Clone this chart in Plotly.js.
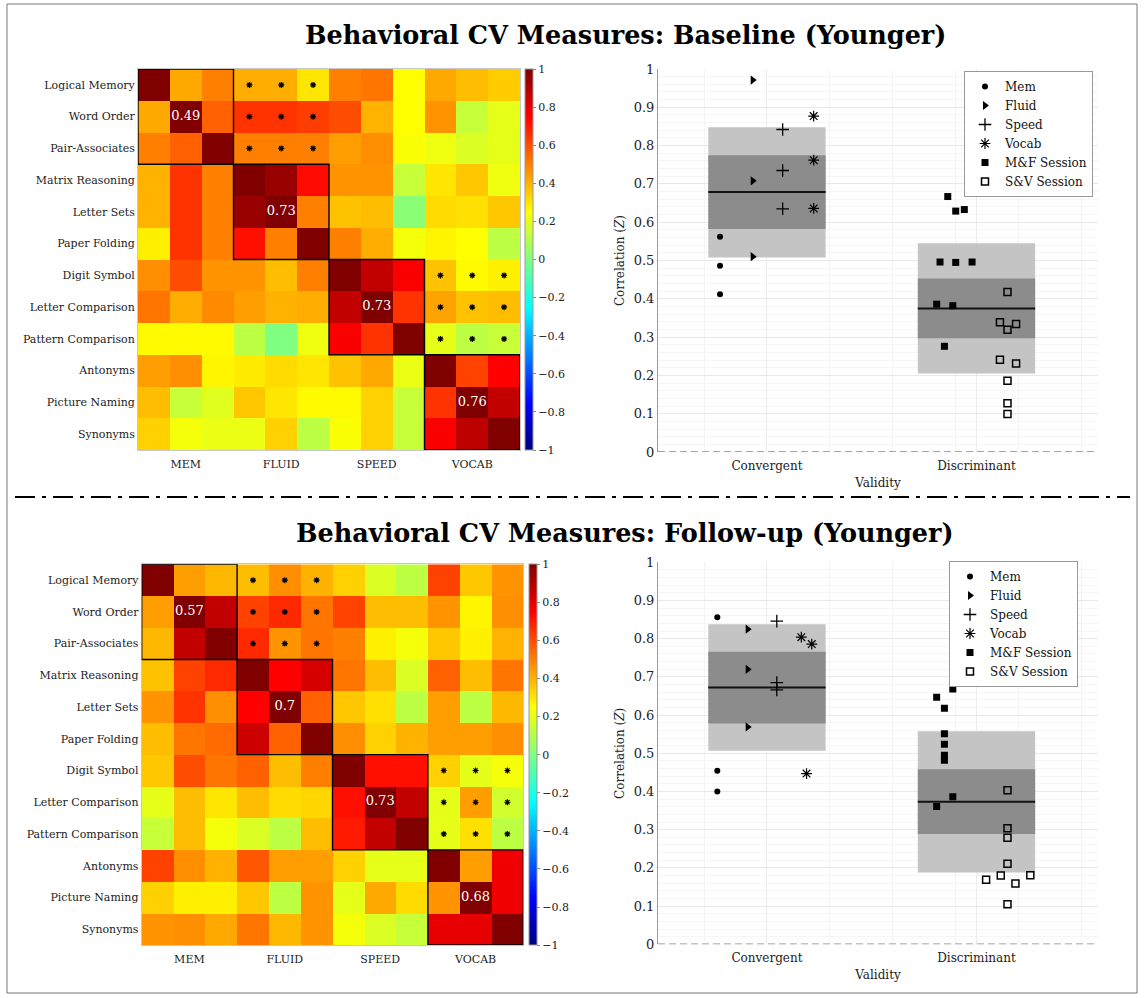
<!DOCTYPE html>
<html>
<head>
<meta charset="utf-8">
<script src="https://cdn.plot.ly/plotly-3.0.1.min.js"></script>
<style>html,body{margin:0;padding:0;background:#fff;}#chart{width:1144px;height:998px;}</style>
</head>
<body>
<div id="chart"></div>
<script>
// ---------------- DATA ----------------
const rowLabels = ['Logical Memory','Word Order','Pair-Associates','Matrix Reasoning','Letter Sets','Paper Folding','Digit Symbol','Letter Comparison','Pattern Comparison','Antonyms','Picture Naming','Synonyms'];
const groupLabels = ['MEM','FLUID','SPEED','VOCAB'];
const groupSize = 3;

const baselineZ = [
  [1.00,0.42,0.50,0.41,0.41,0.30,0.50,0.52,0.25,0.42,0.38,0.35],
  [0.42,1.00,0.56,0.65,0.65,0.63,0.60,0.40,0.25,0.46,0.14,0.20],
  [0.50,0.56,1.00,0.50,0.50,0.50,0.44,0.47,0.24,0.22,0.18,0.20],
  [0.40,0.65,0.50,1.00,0.95,0.73,0.46,0.46,0.14,0.30,0.36,0.22],
  [0.40,0.65,0.50,0.95,1.00,0.50,0.37,0.38,0.02,0.32,0.31,0.36],
  [0.28,0.65,0.50,0.72,0.50,1.00,0.50,0.41,0.23,0.27,0.25,0.12],
  [0.47,0.60,0.46,0.46,0.38,0.50,1.00,0.87,0.76,0.37,0.26,0.28],
  [0.52,0.41,0.48,0.44,0.40,0.41,0.87,1.00,0.65,0.43,0.37,0.38],
  [0.26,0.26,0.26,0.12,0.00,0.22,0.76,0.65,1.00,0.20,0.12,0.14],
  [0.44,0.47,0.27,0.29,0.32,0.30,0.37,0.42,0.21,1.00,0.62,0.75],
  [0.38,0.14,0.19,0.36,0.30,0.26,0.26,0.34,0.14,0.65,1.00,0.87],
  [0.34,0.23,0.21,0.21,0.34,0.12,0.24,0.34,0.14,0.76,0.88,1.00]
];
const followupZ = [
  [1.00,0.44,0.39,0.38,0.47,0.40,0.34,0.18,0.12,0.62,0.36,0.46],
  [0.44,1.00,0.87,0.62,0.67,0.52,0.62,0.38,0.38,0.46,0.27,0.47],
  [0.39,0.87,1.00,0.67,0.46,0.52,0.50,0.28,0.23,0.36,0.28,0.40],
  [0.37,0.62,0.67,1.00,0.75,0.83,0.52,0.38,0.18,0.56,0.38,0.52],
  [0.46,0.65,0.47,0.75,1.00,0.56,0.36,0.31,0.12,0.44,0.12,0.39],
  [0.38,0.52,0.54,0.85,0.56,1.00,0.47,0.34,0.40,0.44,0.44,0.47],
  [0.36,0.60,0.52,0.56,0.38,0.50,1.00,0.72,0.72,0.34,0.20,0.23],
  [0.20,0.38,0.30,0.38,0.32,0.33,0.72,1.00,0.87,0.20,0.44,0.16],
  [0.14,0.38,0.23,0.18,0.12,0.38,0.70,0.87,1.00,0.20,0.31,0.12],
  [0.62,0.47,0.40,0.58,0.44,0.44,0.34,0.20,0.20,1.00,0.44,0.78],
  [0.34,0.28,0.28,0.36,0.12,0.46,0.20,0.42,0.32,0.46,1.00,0.78],
  [0.46,0.47,0.42,0.52,0.39,0.46,0.23,0.18,0.14,0.80,0.80,1.00]
];
const baselineBlockMeans = [0.49, 0.73, 0.73, 0.76];
const followupBlockMeans = [0.57, 0.7, 0.73, 0.68];
// significant cells (row, col indices)
const sigRows = [0,0,0,1,1,1,2,2,2,6,6,6,7,7,7,8,8,8];
const sigCols = [3,4,5,3,4,5,3,4,5,9,10,11,9,10,11,9,10,11];

const validityLabels = ['Convergent','Discriminant'];
const colorbarTicks = [-1,-0.8,-0.6,-0.4,-0.2,0,0.2,0.4,0.6,0.8,1];

// Baseline scatter values (x = validity index 1/2 plus jitter)
const baseMemX = [0.776,0.776,0.776],  baseMemY = [0.562,0.486,0.412];
const baseFluidX = [0.932,0.932,0.932], baseFluidY = [0.971,0.708,0.510];
const baseSpeedX = [1.075,1.075,1.075], baseSpeedY = [0.842,0.735,0.635];
const baseVocabX = [1.223,1.223,1.223], baseVocabY = [0.877,0.762,0.636];
const baseMFX = [1.863,1.901,1.942,1.826,1.901,1.979,1.810,1.887,1.847];
const baseMFY = [0.667,0.629,0.633,0.496,0.495,0.496,0.386,0.382,0.276];
const baseSVX = [2.148,2.112,2.189,2.148,2.112,2.189,2.148,2.148,2.148];
const baseSVY = [0.418,0.339,0.334,0.319,0.241,0.231,0.186,0.127,0.099];
const baseLo95 = [0.508,0.205], baseHi95 = [0.848,0.545];
const baseLoSD = [0.582,0.297], baseHiSD = [0.775,0.453];
const baseMean = [0.679,0.375];

// Follow-up scatter values
const folMemX = [0.763,0.763,0.763],   folMemY = [0.856,0.454,0.400];
const folFluidX = [0.908,0.908,0.908], folFluidY = [0.825,0.720,0.569];
const folSpeedX = [1.047,1.047,1.047], folSpeedY = [0.846,0.685,0.666];
const folVocabX = [1.164,1.214,1.189], folVocabY = [0.804,0.786,0.447];
const folMFX = [1.810,1.887,1.847,1.847,1.847,1.847,1.847,1.810,1.887];
const folMFY = [0.647,0.668,0.618,0.551,0.524,0.495,0.482,0.361,0.386];
const folSVX = [2.148,2.148,2.148,2.148,2.046,2.116,2.186,2.257,2.148];
const folSVY = [0.403,0.304,0.279,0.211,0.169,0.180,0.159,0.181,0.105];
const folLo95 = [0.507,0.188], folHi95 = [0.838,0.558];
const folLoSD = [0.578,0.289], folHiSD = [0.766,0.458];
const folMean = [0.672,0.373];

// ---------------- STYLE ----------------
const SERIF = 'DejaVu Serif';
const W = 1144, H = 998;
const JET = [[0,'rgb(0,0,128)'],[0.125,'rgb(0,0,255)'],[0.375,'rgb(0,255,255)'],[0.625,'rgb(255,255,0)'],[0.875,'rgb(255,0,0)'],[1,'rgb(128,0,0)']];
const boxHalf = 0.28;
const px = v => v / W;
const py = v => 1 - v / H;

const traces = [];
const shapes = [];

function addHeatmap(z, means, xa, ya, cbX, domY) {
  const idx = rowLabels.map((_, i) => i);
  traces.push({
    type: 'heatmap', z: z, x: idx, y: idx, xaxis: xa, yaxis: ya,
    colorscale: JET, zmin: -1, zmax: 1, hoverinfo: 'skip',
    colorbar: {
      x: cbX, xanchor: 'left', y: (domY[0] + domY[1]) / 2, yanchor: 'middle',
      len: domY[1] - domY[0], lenmode: 'fraction', thickness: 8, thicknessmode: 'pixels',
      xpad: 0, ypad: 0, outlinewidth: 1, outlinecolor: '#999',
      tickvals: colorbarTicks, ticks: 'outside', ticklen: 3, tickcolor: '#888',
      tickfont: {family: SERIF, size: 11, color: '#222'}
    }
  });
  traces.push({
    type: 'scatter', mode: 'markers', x: sigCols, y: sigRows, xaxis: xa, yaxis: ya,
    marker: {symbol: 'asterisk-open', size: 5, color: '#000', line: {color: '#000', width: 1.2}},
    showlegend: false, hoverinfo: 'skip'
  });
  const centers = groupLabels.map((_, g) => g * groupSize + 1);
  traces.push({
    type: 'scatter', mode: 'text', x: centers, y: centers, xaxis: xa, yaxis: ya,
    text: means.map(String), textposition: 'middle center',
    textfont: {family: SERIF, size: 13, color: '#fff'},
    showlegend: false, hoverinfo: 'skip'
  });
  groupLabels.forEach((_, g) => {
    shapes.push({type: 'rect', xref: xa, yref: ya,
      x0: g * groupSize - 0.5, x1: g * groupSize + groupSize - 0.5,
      y0: g * groupSize - 0.5, y1: g * groupSize + groupSize - 0.5,
      line: {color: '#000', width: 1.4}, layer: 'above'});
  });
}

function addScatter(d, xa, ya, legendId) {
  const cats = validityLabels.map((_, i) => i + 1);
  traces.push({type: 'bar', x: cats, base: d.lo95, y: d.hi95.map((h, i) => h - d.lo95[i]),
    width: 2 * boxHalf, xaxis: xa, yaxis: ya, marker: {color: 'rgb(196,196,196)', line: {width: 0}},
    showlegend: false, hoverinfo: 'skip'});
  traces.push({type: 'bar', x: cats, base: d.loSD, y: d.hiSD.map((h, i) => h - d.loSD[i]),
    width: 2 * boxHalf, xaxis: xa, yaxis: ya, marker: {color: 'rgb(140,140,140)', line: {width: 0}},
    showlegend: false, hoverinfo: 'skip'});
  const mx = [], my = [];
  cats.forEach((c, i) => { mx.push(c - boxHalf, c + boxHalf, null); my.push(d.mean[i], d.mean[i], null); });
  traces.push({type: 'scatter', mode: 'lines', x: mx, y: my, xaxis: xa, yaxis: ya,
    line: {color: '#111', width: 2}, showlegend: false, hoverinfo: 'skip'});
  const series = [
    ['Mem', d.memX, d.memY, {symbol: 'circle', size: 6, color: '#000'}],
    ['Fluid', d.fluidX, d.fluidY, {symbol: 'triangle-right', size: 8, color: '#000'}],
    ['Speed', d.speedX, d.speedY, {symbol: 'cross-thin-open', size: 9, color: '#000', line: {color: '#000', width: 1.3}}],
    ['Vocab', d.vocabX, d.vocabY, {symbol: 'asterisk-open', size: 9, color: '#000', line: {color: '#000', width: 1.2}}],
    ['M&F Session', d.mfX, d.mfY, {symbol: 'square', size: 7, color: '#000'}],
    ['S&V Session', d.svX, d.svY, {symbol: 'square-open', size: 7, color: '#000', line: {color: '#000', width: 1.5}}]
  ];
  series.forEach(s => traces.push({type: 'scatter', mode: 'markers', name: s[0], x: s[1], y: s[2],
    xaxis: xa, yaxis: ya, marker: s[3], legend: legendId, hoverinfo: 'skip'}));
  shapes.push({type: 'line', xref: xa + ' domain', yref: ya, x0: 0, x1: 1, y0: 0, y1: 0,
    line: {color: '#888', width: 1.5, dash: '7px,4px'}, layer: 'above'});
}

// Domains
const hm1X = [px(138), px(520)], hm1Y = [py(450), py(69)];
const sc1X = [px(658), px(1098)], sc1Y = [py(452), py(69)];
const hm2X = [px(141.7), px(523.3)], hm2Y = [py(945), py(564.3)];
const sc2X = [px(658), px(1098)], sc2Y = [py(944.3), py(562.3)];

addHeatmap(baselineZ, baselineBlockMeans, 'x', 'y', px(525), hm1Y);
addScatter({memX: baseMemX, memY: baseMemY, fluidX: baseFluidX, fluidY: baseFluidY,
  speedX: baseSpeedX, speedY: baseSpeedY, vocabX: baseVocabX, vocabY: baseVocabY,
  mfX: baseMFX, mfY: baseMFY, svX: baseSVX, svY: baseSVY,
  lo95: baseLo95, hi95: baseHi95, loSD: baseLoSD, hiSD: baseHiSD, mean: baseMean}, 'x2', 'y2', 'legend');
addHeatmap(followupZ, followupBlockMeans, 'x3', 'y3', px(528.5), hm2Y);
addScatter({memX: folMemX, memY: folMemY, fluidX: folFluidX, fluidY: folFluidY,
  speedX: folSpeedX, speedY: folSpeedY, vocabX: folVocabX, vocabY: folVocabY,
  mfX: folMFX, mfY: folMFY, svX: folSVX, svY: folSVY,
  lo95: folLo95, hi95: folHi95, loSD: folLoSD, hiSD: folHiSD, mean: folMean}, 'x4', 'y4', 'legend2');

function hmX(dom, anchor) {
  return {domain: dom, anchor: anchor, range: [-0.5, rowLabels.length - 0.5],
    tickvals: groupLabels.map((_, g) => g * groupSize + 1), ticktext: groupLabels,
    tickfont: {family: SERIF, size: 11, color: '#222'}, ticks: '', ticklabelstandoff: 4,
    showgrid: false, zeroline: false,
    showline: true, mirror: true, linecolor: '#c8c8c8', linewidth: 1, fixedrange: true};
}
function hmY(dom, anchor) {
  return {domain: dom, anchor: anchor, range: [rowLabels.length - 0.5, -0.5],
    tickvals: rowLabels.map((_, i) => i), ticktext: rowLabels,
    tickfont: {family: SERIF, size: 11, color: '#222'}, ticks: '', showgrid: false, zeroline: false,
    showline: true, mirror: true, linecolor: '#c8c8c8', linewidth: 1, fixedrange: true};
}
function scX(dom, anchor) {
  return {domain: dom, anchor: anchor, range: [0.48, 2.58],
    tickvals: validityLabels.map((_, i) => i + 1), ticktext: validityLabels,
    tickfont: {family: SERIF, size: 12, color: '#222'}, ticks: '', ticklabelstandoff: 5,
    showgrid: true, gridcolor: '#ececec', gridwidth: 1, zeroline: false, showline: false,
    minor: {tick0: 1, dtick: 0.3, showgrid: true, gridcolor: '#f4f4f4'},
    title: {text: 'Validity', font: {family: SERIF, size: 12, color: '#222'}, standoff: 6}};
}
function scY(dom, anchor) {
  return {domain: dom, anchor: anchor, range: [0, 1], dtick: 0.1, tick0: 0,
    tickfont: {family: SERIF, size: 13, color: '#222'}, ticks: '',
    showgrid: true, gridcolor: '#e8e8e8', gridwidth: 1, zeroline: false,
    minor: {dtick: 0.02, showgrid: true, gridcolor: '#f5f5f5'},
    showline: true, linecolor: '#999', linewidth: 1,
    title: {text: 'Correlation (<i>Z</i>)', font: {family: SERIF, size: 12, color: '#222'}, standoff: 6}};
}

shapes.push({type: 'line', xref: 'paper', yref: 'paper', x0: px(15), x1: px(1130), y0: py(497), y1: py(497),
  line: {color: '#000', width: 2, dash: '20px,7px,4px,7px'}});
shapes.push({type: 'rect', xref: 'paper', yref: 'paper', x0: px(7), x1: px(1137), y0: py(993), y1: py(4),
  line: {color: '#777', width: 1}});

const legendStyle = {xanchor: 'right', yanchor: 'top', bgcolor: '#fff', bordercolor: '#999', borderwidth: 1,
  font: {family: SERIF, size: 12, color: '#111'}, tracegroupgap: 0, itemwidth: 30};

const layout = {
  width: W, height: H, margin: {l: 0, r: 0, t: 0, b: 0},
  paper_bgcolor: '#fff', plot_bgcolor: '#fff',
  barmode: 'overlay', showlegend: true,
  xaxis: hmX(hm1X, 'y'), yaxis: hmY(hm1Y, 'x'),
  xaxis2: scX(sc1X, 'y2'), yaxis2: scY(sc1Y, 'x2'),
  xaxis3: hmX(hm2X, 'y3'), yaxis3: hmY(hm2Y, 'x3'),
  xaxis4: scX(sc2X, 'y4'), yaxis4: scY(sc2Y, 'x4'),
  legend: Object.assign({x: px(1093), y: py(71)}, legendStyle),
  legend2: Object.assign({x: px(1078), y: py(561)}, legendStyle),
  shapes: shapes,
  annotations: [
    {xref: 'paper', yref: 'paper', x: px(625), y: py(35), xanchor: 'center', yanchor: 'middle', showarrow: false,
     text: '<b>Behavioral CV Measures: Baseline (Younger)</b>', font: {family: SERIF, size: 25.5, color: '#000'}},
    {xref: 'paper', yref: 'paper', x: px(625), y: py(533), xanchor: 'center', yanchor: 'middle', showarrow: false,
     text: '<b>Behavioral CV Measures: Follow-up (Younger)</b>', font: {family: SERIF, size: 25.5, color: '#000'}}
  ]
};

Plotly.newPlot('chart', traces, layout, {displayModeBar: false, staticPlot: true});
</script>
</body>
</html>
